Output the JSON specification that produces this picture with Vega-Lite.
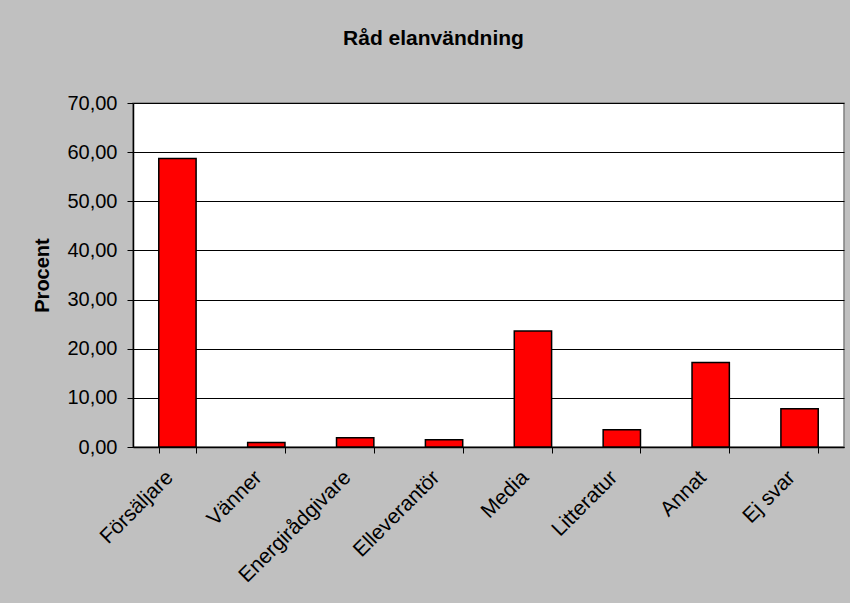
{
  "$schema": "https://vega.github.io/schema/vega-lite/v6.json",
  "autosize": "none",
  "width": 711,
  "height": 344,
  "padding": {"left": 133, "top": 103, "right": 6, "bottom": 156},
  "background": "#C0C0C0",
  "title": {
    "text": "Råd elanvändning",
    "font": "Liberation Sans",
    "fontSize": 21,
    "fontWeight": "bold",
    "color": "black",
    "anchor": "middle",
    "frame": "group",
    "dx": -55,
    "offset": 44
  },
  "data": {
    "values": [
      {"kategori": "Försäljare", "procent": 58.7},
      {"kategori": "Vänner", "procent": 0.9},
      {"kategori": "Energirådgivare", "procent": 1.9},
      {"kategori": "Elleverantör", "procent": 1.5},
      {"kategori": "Media", "procent": 23.6},
      {"kategori": "Litteratur", "procent": 3.5},
      {"kategori": "Annat", "procent": 17.2},
      {"kategori": "Ej svar", "procent": 7.8}
    ]
  },
  "mark": {"type": "bar", "fill": "#FF0000", "stroke": "black", "strokeWidth": 1.5},
  "encoding": {
    "x": {
      "field": "kategori",
      "type": "nominal",
      "sort": null,
      "scale": {"paddingInner": 0.58, "paddingOuter": 0.29},
      "axis": {
        "title": null,
        "labelAngle": -45,
        "labelAlign": "right",
        "labelBaseline": "middle",
        "labelFont": "Liberation Sans",
        "labelFontSize": 21,
        "labelColor": "black",
        "labelPadding": 21,
        "labelOffset": -8,
        "tickBand": "extent",
        "tickSize": 6,
        "tickColor": "black",
        "domainColor": "black",
        "domainWidth": 1.5,
        "grid": false
      }
    },
    "y": {
      "field": "procent",
      "type": "quantitative",
      "scale": {"domain": [0, 70], "nice": false},
      "axis": {
        "title": "Procent",
        "titleFont": "Liberation Sans",
        "titleFontSize": 20,
        "titleFontWeight": "bold",
        "titleColor": "black",
        "titlePadding": 14,
        "values": [0, 10, 20, 30, 40, 50, 60, 70],
        "labelExpr": "replace(format(datum.value, '.2f'), '.', ',')",
        "labelFont": "Liberation Sans",
        "labelFontSize": 20,
        "labelColor": "black",
        "labelPadding": 10,
        "tickSize": 6,
        "tickColor": "black",
        "domainColor": "black",
        "domainWidth": 1.5,
        "grid": true,
        "gridColor": "black",
        "gridWidth": 1
      }
    }
  },
  "config": {
    "view": {"fill": "white", "stroke": "#808080", "strokeWidth": 1.5}
  }
}
